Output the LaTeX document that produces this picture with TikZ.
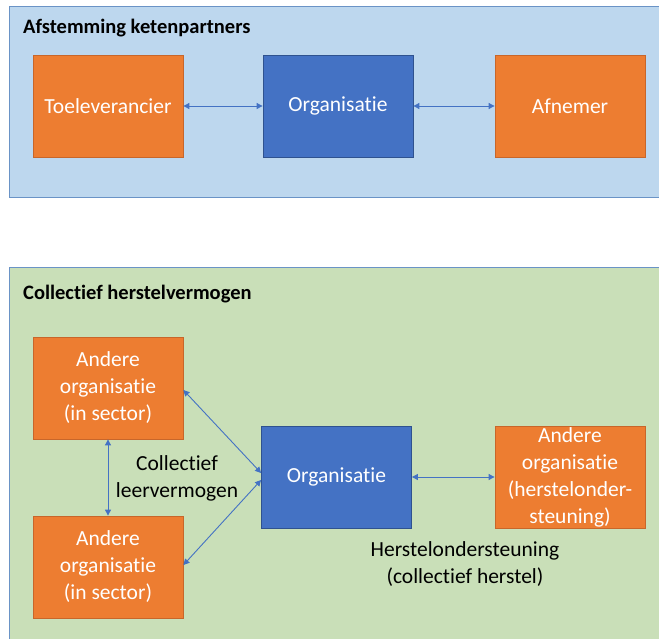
\documentclass[tikz,border=0pt]{standalone}
\usepackage{fontspec}
\setmainfont{Carlito}[Ligatures=NoCommon]
\usetikzlibrary{arrows.meta,calc}
\definecolor{panelblue}{HTML}{BDD7EE}
\definecolor{panelblueline}{HTML}{6A93C6}
\definecolor{panelgreen}{HTML}{C9DFB8}
\definecolor{panelgreenline}{HTML}{6A93C6}
\definecolor{orangefill}{HTML}{ED7D31}
\definecolor{orangeline}{HTML}{C8662A}
\definecolor{bluefill}{HTML}{4472C4}
\definecolor{blueline}{HTML}{2F528F}
\definecolor{arrowblue}{HTML}{4472C4}
\tikzset{
  box/.style={rectangle, inner sep=0pt, minimum width=150pt, minimum height=102pt, line width=0.8pt},
  obox/.style={box, fill=orangefill, draw=orangeline},
  bbox/.style={box, fill=bluefill, draw=blueline},
  boxtext/.style={text=white, align=center, font=\fontsize{21.5}{27}\selectfont, inner sep=0pt},
  lbl/.style={text=black, align=center, font=\fontsize{21.5}{27}\selectfont, inner sep=0pt},
  ttl/.style={text=black, anchor=west, font=\fontsize{20.5}{24}\selectfont\bfseries, inner sep=0pt},
  arr/.style={draw=arrowblue, line width=0.9pt, {Triangle[length=6pt,width=6pt]}-{Triangle[length=6pt,width=6pt]}}
}
\begin{document}
\begin{tikzpicture}[x=1pt,y=-1pt]
\useasboundingbox (0,0) rectangle (659,638);
% panels
\path[fill=panelblue, draw=panelblueline, line width=0.8pt] (9,6) rectangle (668,197);
\path[fill=panelgreen, draw=panelgreenline, line width=0.8pt] (9,267) rectangle (668,648);
\node[ttl] (t1) at (23,28) {Afstemming ketenpartners};
\node[ttl] (t2) at (23,294) {Collectief herstelvermogen};
% top row
\node[obox] (toe) at (108,106) {};
\node[boxtext] (toet) at (toe.center) {Toeleverancier};
\node[bbox] (org1) at (338,106) {};
\node[boxtext] (org1t) at (org1.center) {Organisatie};
\node[obox] (afn) at (570,106) {};
\node[boxtext] (afnt) at (afn.center) {Afnemer};
\draw[arr] (toe.east) -- (org1.west);
\draw[arr] (org1.east) -- (afn.west);
% bottom
\node[obox] (a1) at (108,388) {};
\node[boxtext] (a1t) at (a1.center) {Andere\\organisatie\\(in sector)};
\node[obox] (a2) at (108,567) {};
\node[boxtext] (a2t) at (a2.center) {Andere\\organisatie\\(in sector)};
\node[bbox] (org2) at (336.5,477) {};
\node[boxtext] (org2t) at (org2.center) {Organisatie};
\node[obox] (hr) at (570,477) {};
\node[boxtext] (hrt) at (hr.center) {Andere\\organisatie\\(herstelonder-\\steuning)};
\coordinate (oin1) at ($(org2.west)+(0,-4)$);
\coordinate (oin2) at ($(org2.west)+(0,3)$);
\coordinate (a1out) at ($(a1.east)+(0,2)$);
\coordinate (a2out) at ($(a2.east)+(0,-2)$);
\draw[arr] (a1out) -- (oin1);
\draw[arr] (oin2) -- (a2out);
\draw[arr] (a1.south) -- (a2.north);
\draw[arr] (org2.east) -- (hr.west);
\node[lbl] (cl) at (177,478) {Collectief\\leervermogen};
\node[lbl] (hs) at (465,564) {Herstelondersteuning\\(collectief herstel)};
\end{tikzpicture}
\end{document}
